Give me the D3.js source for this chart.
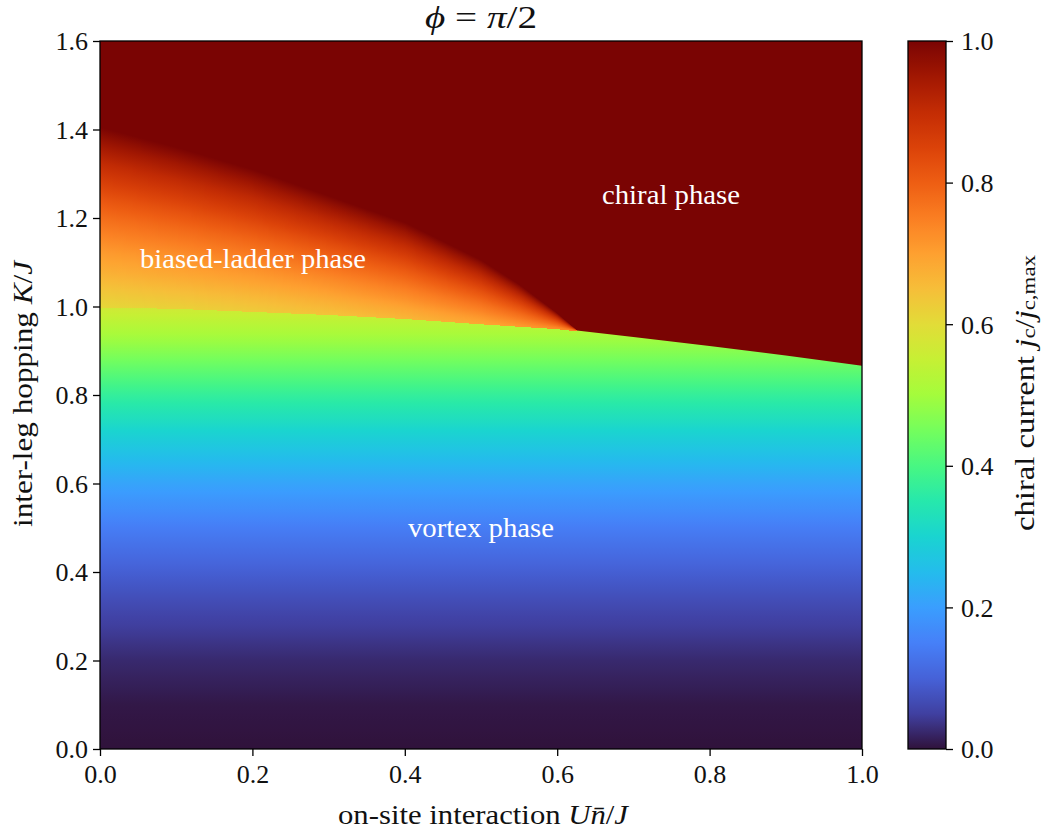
<!DOCTYPE html>
<html><head><meta charset="utf-8">
<script src="https://cdn.jsdelivr.net/npm/d3@7"></script>
<style>body{margin:0;background:#fff} text{font-family:"Liberation Serif","Times New Roman",serif;fill:#111}</style>
</head><body><svg id="c" width="1042" height="833"></svg>
<script>
// ---- data ----
// vortex / (biased | chiral) boundary
const lowerU = [0, 0.1, 0.2, 0.3, 0.4, 0.5, 0.6, 0.7, 0.8, 0.9, 1.0];
const lowerK = [1.0, 0.997, 0.99, 0.983, 0.974, 0.962, 0.951, 0.931, 0.911, 0.889, 0.866];
// biased-ladder / chiral boundary
const upperU = [0, 0.1, 0.2, 0.3, 0.4, 0.5, 0.55, 0.6, 0.625];
const upperK = [1.405, 1.36, 1.31, 1.25, 1.19, 1.105, 1.05, 0.985, 0.948];
// chiral current in the vortex phase versus K
const vortexK = [0, 0.1, 0.2, 0.3, 0.4, 0.5, 0.6, 0.7, 0.8, 0.9, 1.0];
const vortexCurrent = [0, 0.006, 0.025, 0.055, 0.095, 0.145, 0.21, 0.285, 0.37, 0.47, 0.57];
// chiral current at the lower edge of the biased-ladder phase versus U
const biasedU = [0, 0.1, 0.2, 0.3, 0.4, 0.5, 0.6, 0.625];
const biasedLowCurrent = [0.61, 0.62, 0.63, 0.645, 0.665, 0.69, 0.73, 0.75];
// shape of the rise across the biased-ladder band (fraction of the way to 1)
const profileT = [0, 0.1, 0.2, 0.3, 0.4, 0.5, 0.6, 0.7, 0.8, 0.9, 1.0];
const profileP = [0, 0.08, 0.17, 0.25, 0.34, 0.43, 0.53, 0.64, 0.75, 0.87, 1.0];
const chiralCurrent = 1.0;
const xTicks = [0, 0.2, 0.4, 0.6, 0.8, 1.0];
const yTicks = [0, 0.2, 0.4, 0.6, 0.8, 1.0, 1.2, 1.4, 1.6];
const cbTicks = [0, 0.2, 0.4, 0.6, 0.8, 1.0];
// turbo colormap anchors
const turboPos = [0,0.05,0.1,0.15,0.2,0.25,0.3,0.35,0.4,0.45,0.5,0.55,0.6,0.65,0.7,0.75,0.8,0.85,0.9,0.95,1];
const turboColors = ["rgb(48,18,59)","rgb(64,64,161)","rgb(70,98,216)","rgb(70,128,248)","rgb(58,158,254)","rgb(36,188,236)",
  "rgb(26,212,208)","rgb(38,232,172)","rgb(72,247,130)","rgb(116,254,93)","rgb(164,252,60)","rgb(198,240,52)","rgb(226,220,56)",
  "rgb(246,190,57)","rgb(254,160,48)","rgb(250,126,34)","rgb(238,94,19)","rgb(219,66,9)","rgb(195,44,4)","rgb(161,23,2)","rgb(122,4,3)"];

// ---- drawing ----
const svg = d3.select("#c");
const X0 = 100, X1 = 862, Y0 = 41, Y1 = 749;
const x = d3.scaleLinear([0, 1], [X0, X1]);
const y = d3.scaleLinear([0, 1.6], [Y1, Y0]);
const cmap = d3.scaleLinear(turboPos, turboColors).interpolate(d3.interpolateRgb).clamp(true);
const lowerAt = d3.scaleLinear(lowerU, lowerK);
const upperAt = d3.scaleLinear(upperU, upperK);
const lowValAt = d3.scaleLinear(biasedU, biasedLowCurrent).clamp(true);
const profile = d3.scaleLinear(profileT, profileP);
const vortexAt = d3.scaleLinear(vortexK, vortexCurrent);
const defs = svg.append("defs");
defs.append("clipPath").attr("id", "pc").append("rect")
  .attr("x", X0).attr("y", Y0).attr("width", X1 - X0).attr("height", Y1 - Y0);

// vortex gradient
const vg = defs.append("linearGradient").attr("id", "vg").attr("gradientUnits", "userSpaceOnUse")
  .attr("x1", 0).attr("x2", 0).attr("y1", y(0)).attr("y2", y(1.0));
d3.range(0, 1.0001, 0.02).forEach(k => vg.append("stop").attr("offset", k).attr("stop-color", cmap(vortexAt(k))));

const plot = svg.append("g").attr("clip-path", "url(#pc)");
plot.append("rect").attr("x", X0).attr("y", Y0).attr("width", X1 - X0).attr("height", Y1 - Y0).attr("fill", "url(#vg)");
// chiral region (everything above the lower boundary)
plot.append("path")
  .datum(lowerU.map((u, i) => [u, lowerK[i]]))
  .attr("d", d3.area().x(d => x(d[0])).y0(y(1.6)).y1(d => y(d[1])))
  .attr("fill", cmap(chiralCurrent));
// biased-ladder phase: one gradient column per pixel
const bx1 = Math.ceil(x(upperU[upperU.length - 1]));
d3.range(X0, bx1).forEach((px, i) => {
  const uc = x.invert(px + 0.5);
  const kl = lowerAt(uc), ku = upperAt(uc);
  if (ku <= kl) return;
  const lv = lowValAt(uc);
  const g = defs.append("linearGradient").attr("id", "bg" + i).attr("gradientUnits", "userSpaceOnUse")
    .attr("x1", 0).attr("x2", 0).attr("y1", y(kl)).attr("y2", y(ku));
  d3.range(0, 1.0001, 0.05).forEach(t => g.append("stop").attr("offset", t)
    .attr("stop-color", cmap(lv + (chiralCurrent - lv) * profile(t))));
  plot.append("rect").attr("x", px).attr("width", 1)
    .attr("y", y(ku)).attr("height", y(kl) - y(ku) + 1).attr("fill", `url(#bg${i})`)
    .attr("shape-rendering", "crispEdges");
});

// frame
svg.append("rect").attr("x", X0).attr("y", Y0).attr("width", X1 - X0).attr("height", Y1 - Y0)
  .attr("fill", "none").attr("stroke", "#000").attr("stroke-width", 1.3);

// axes
const fmt = d3.format(".1f");
const xa = svg.append("g").attr("transform", `translate(0,${Y1})`)
  .call(d3.axisBottom(x).tickValues(xTicks).tickFormat(fmt).tickSize(7).tickPadding(4));
const ya = svg.append("g").attr("transform", `translate(${X0},0)`)
  .call(d3.axisLeft(y).tickValues(yTicks).tickFormat(fmt).tickSize(7).tickPadding(5));
[xa, ya].forEach(a => {
  a.select(".domain").remove();
  a.selectAll("line").attr("stroke", "#000").attr("stroke-width", 1.3);
  a.selectAll("text").style("font-family", '"Liberation Serif",serif').style("font-size", "26px").attr("fill", "#111");
});
xa.selectAll("text").attr("dy", "0.9em");
ya.selectAll("text").attr("dy", "0.34em");

// colorbar
const CX0 = 908, CX1 = 946;
const cy = d3.scaleLinear([0, 1], [Y1, Y0]);
const cg = defs.append("linearGradient").attr("id", "cg").attr("x1", 0).attr("x2", 0).attr("y1", 1).attr("y2", 0);
d3.range(0, 1.0001, 0.01).forEach(t => cg.append("stop").attr("offset", t).attr("stop-color", cmap(t)));
svg.append("rect").attr("x", CX0).attr("y", Y0).attr("width", CX1 - CX0).attr("height", Y1 - Y0)
  .attr("fill", "url(#cg)").attr("stroke", "#000").attr("stroke-width", 1.3);
const ca = svg.append("g").attr("transform", `translate(${CX1},0)`)
  .call(d3.axisRight(cy).tickValues(cbTicks).tickFormat(fmt).tickSize(7).tickPadding(8));
ca.select(".domain").remove();
ca.selectAll("line").attr("stroke", "#000").attr("stroke-width", 1.3);
ca.selectAll("text").style("font-family", '"Liberation Serif",serif').style("font-size", "26px").attr("fill", "#111").attr("dy", "0.34em");

// labels
function label(parts, opts) {
  const t = svg.append("text").attr("text-anchor", "middle").style("font-size", (opts.size || 26) + "px")
    .attr("dominant-baseline", "central");
  if (opts.rotate) t.attr("transform", `translate(${opts.x},${opts.y}) rotate(-90)`);
  else t.attr("x", opts.x).attr("y", opts.y);
  if (opts.fill) t.style("fill", opts.fill);
  parts.forEach(p => {
    const s = t.append("tspan").text(p.t);
    if (p.i) s.attr("font-style", "italic");
    if (p.sub) s.style("font-size", "0.7em").attr("baseline-shift", "-22%");
  });
  if (opts.len) t.attr("textLength", opts.len).attr("lengthAdjust", "spacingAndGlyphs");
  return t;
}
label([{t: "ϕ", i: 1}, {t: " = "}, {t: "π", i: 1}, {t: "/2"}], {x: 481, y: 17, size: 32, len: 112});
label([{t: "on-site interaction "}, {t: "Un\u0304", i: 1}, {t: "/"}, {t: "J", i: 1}], {x: 483, y: 814, size: 28, len: 290});
label([{t: "inter-leg hopping "}, {t: "K", i: 1}, {t: "/"}, {t: "J", i: 1}], {x: 22, y: 394, size: 28, rotate: 1, len: 266});
label([{t: "chiral current "}, {t: "j", i: 1}, {t: "c", sub: 1}, {t: "/"}, {t: "j", i: 1}, {t: "c,max", sub: 1}], {x: 1024, y: 393, size: 28, rotate: 1, len: 276});
label([{t: "chiral phase"}], {x: 671, y: 194, size: 28, fill: "#fff", len: 138});
label([{t: "biased-ladder phase"}], {x: 253, y: 258, size: 28, fill: "#fff", len: 226});
label([{t: "vortex phase"}], {x: 481, y: 527, size: 28, fill: "#fff", len: 146});
</script></body></html>
